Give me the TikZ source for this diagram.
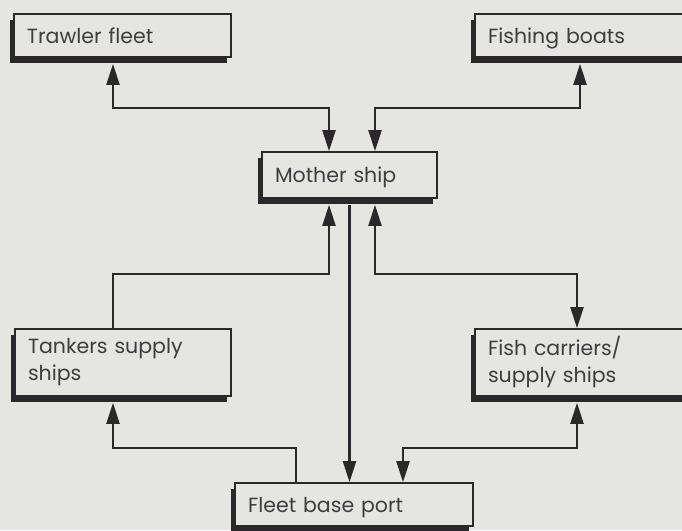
\documentclass[tikz,border=0pt]{standalone}
\usepackage{fontspec}
\setmainfont{Poppins}
\usepackage{xcolor}
\usetikzlibrary{arrows.meta,calc,positioning,shadows}
\definecolor{paper}{RGB}{229,229,226}
\definecolor{ink}{RGB}{42,40,42}

\begin{document}
\begin{tikzpicture}[x=1pt,y=-1pt,font=\fontsize{20.5}{27}\selectfont,
  box/.style={draw=ink,line width=1.8pt,fill=paper,text=ink!90,align=left,inner xsep=13pt,inner ysep=0pt,
    anchor=center,drop shadow={shadow xshift=-4pt,shadow yshift=-6pt,fill=ink,opacity=1}},
  oneline/.style={text height=15pt,text depth=0pt},
  link/.style={draw=ink,line width=2.4pt},
  tip/.style={-{Triangle[length=21pt,width=13pt]}},
  both/.style={{Triangle[length=21pt,width=13pt]}-{Triangle[length=21pt,width=13pt]}}]
  \fill[paper] (0,0) rectangle (682,530);
  \useasboundingbox (0,0) rectangle (682,530);

  % boxes
  \node[box,oneline,text width=191pt,minimum height=43pt] (trawler) at (122.5,35.5) {Trawler fleet};
  \node[box,oneline,text width=199pt,minimum height=43pt] (fishing) at (587.5,35.5) {Fishing boats};
  \node[box,oneline,text width=149pt,minimum height=46pt] (mother) at (349.5,175) {Mother ship};
  \node[box,text width=190pt,minimum height=67pt] (tankers) at (123,362.5) {Tankers supply\\ships};
  \node[box,text width=199pt,minimum height=67pt] (carriers) at (587.5,362.5) {Fish carriers/\\supply ships};
  \node[box,oneline,text width=212pt,minimum height=43pt] (port) at (354,504.5) {Fleet base port};

  % bus levels
  \coordinate (topbus) at (0,108);
  \coordinate (midbus) at (0,274);
  \coordinate (lowbus) at (0,448);

  % upper links
  \draw[link,both] ([xshift=-9.5pt,yshift=-6pt]trawler.south) -- ([xshift=-9.5pt]trawler.south |- topbus) -| ([xshift=-20.5pt]mother.north);
  \draw[link,both] ([xshift=-7.5pt,yshift=-6pt]fishing.south) -- ([xshift=-7.5pt]fishing.south |- topbus) -| ([xshift=25.5pt]mother.north);

  % mother ship down
  \draw[link,tip] ([xshift=-10pt]tankers.north) -- ([xshift=-10pt]tankers.north |- midbus) -| ([xshift=-20.5pt,yshift=-6pt]mother.south);
  \draw[link,tip] ([yshift=-6pt]mother.south) -- ([xshift=-4.5pt]port.north);
  \draw[link,both] ([xshift=25.5pt,yshift=-6pt]mother.south) -- ([xshift=25.5pt]mother.south |- midbus) -| ([xshift=-10.5pt]carriers.north);

  % port links
  \draw[link,tip] ([xshift=-58pt]port.north) -- ([xshift=-58pt]port.north |- lowbus) -| ([xshift=-10pt,yshift=-6pt]tankers.south);
  \draw[link,both] ([xshift=-10.5pt,yshift=-6pt]carriers.south) -- ([xshift=-10.5pt]carriers.south |- lowbus) -| ([xshift=49pt]port.north);
\end{tikzpicture}
\end{document}
